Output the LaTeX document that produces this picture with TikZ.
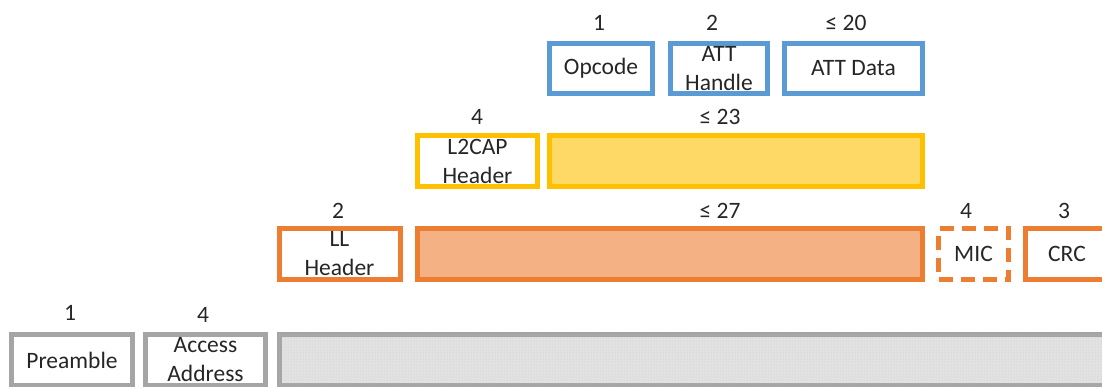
\documentclass[tikz,border=0pt]{standalone}
\usepackage{fontspec}
\setmainfont{Carlito}
\usetikzlibrary{patterns}
\definecolor{cblue}{HTML}{5B9BD5}
\definecolor{cyel}{HTML}{FFC000}
\definecolor{cyelf}{HTML}{FFD966}
\definecolor{corg}{HTML}{ED7D31}
\definecolor{corgf}{HTML}{F4B183}
\definecolor{cgry}{HTML}{A5A5A5}
\definecolor{cgryf}{HTML}{E2E2E2}
\definecolor{cgryd}{HTML}{C8C8C8}
\definecolor{ctxt}{HTML}{262626}
\begin{document}
\begin{tikzpicture}[x=1pt,y=-1pt,
  fld/.style={draw, line width=5pt, inner sep=0pt, outer sep=0pt, align=center,
    text=ctxt, font=\fontsize{23.5}{29}\selectfont},
  bluebox/.style={fld, draw=cblue, fill=white},
  yelbox/.style={fld, draw=cyel, fill=white},
  yelbar/.style={fld, draw=cyel, fill=cyelf},
  orgbox/.style={fld, draw=corg, fill=white},
  orgbar/.style={fld, draw=corg, fill=corgf},
  micbox/.style={fld, draw=corg, fill=white, dash pattern=on 14pt off 8pt},
  grybox/.style={fld, draw=cgry, fill=white},
  grybar/.style={fld, draw=cgry, fill=cgryf,
    postaction={pattern=dots, pattern color=cgryd}},
  num/.style={text=ctxt, font=\fontsize{23.5}{29}\selectfont, inner sep=0pt}]
\useasboundingbox (0,0) rectangle (1102,386);
\clip (0,0) rectangle (1102,386);
% row 1 (blue)
\node[bluebox, minimum width=103pt, minimum height=50pt] (op) at (601,68.5) {Opcode};
\node[bluebox, minimum width=97pt, minimum height=50pt] (ah) at (719,68.5) {ATT\\Handle};
\node[bluebox, minimum width=138pt, minimum height=50pt] (ad) at (853.5,68.5) {ATT Data};
\node[num] (n1) at (599,23) {1};
\node[num] (n2) at (712,23) {2};
\node[num] (n3) at (846,23) {≤ 20};
% row 2 (yellow)
\node[yelbox, minimum width=120pt, minimum height=51pt] (l2) at (477.5,161) {L2CAP\\Header};
\node[yelbar, minimum width=373pt, minimum height=51pt] (yb) at (736,161) {};
\node[num] (n4) at (477,117) {4};
\node[num] (n5) at (720,117) {≤ 23};
% row 3 (orange)
\node[orgbox, minimum width=121pt, minimum height=51pt] (ll) at (339.5,254) {LL\\Header};
\node[orgbar, minimum width=505pt, minimum height=51pt] (ob) at (670,254) {};
\node[micbox, minimum width=70pt, minimum height=51pt] (mic) at (973.5,254) {MIC};
\node[orgbox, minimum width=83pt, minimum height=51pt] (crc) at (1067,254) {CRC};
\node[num] (n6) at (338,211) {2};
\node[num] (n7) at (720,211) {≤ 27};
\node[num] (n8) at (966,211) {4};
\node[num] (n9) at (1064,211) {3};
% row 4 (grey)
\node[grybox, minimum width=121pt, minimum height=51pt] (pre) at (72,360) {Preamble};
\node[grybox, minimum width=120pt, minimum height=51pt] (aa) at (205.5,360) {Access\\Address};
\node[grybar, minimum width=900pt, minimum height=51pt] (gb) at (729,360) {};
\node[num] (n10) at (70,313) {1};
\node[num] (n11) at (203,315) {4};
\end{tikzpicture}
\end{document}
